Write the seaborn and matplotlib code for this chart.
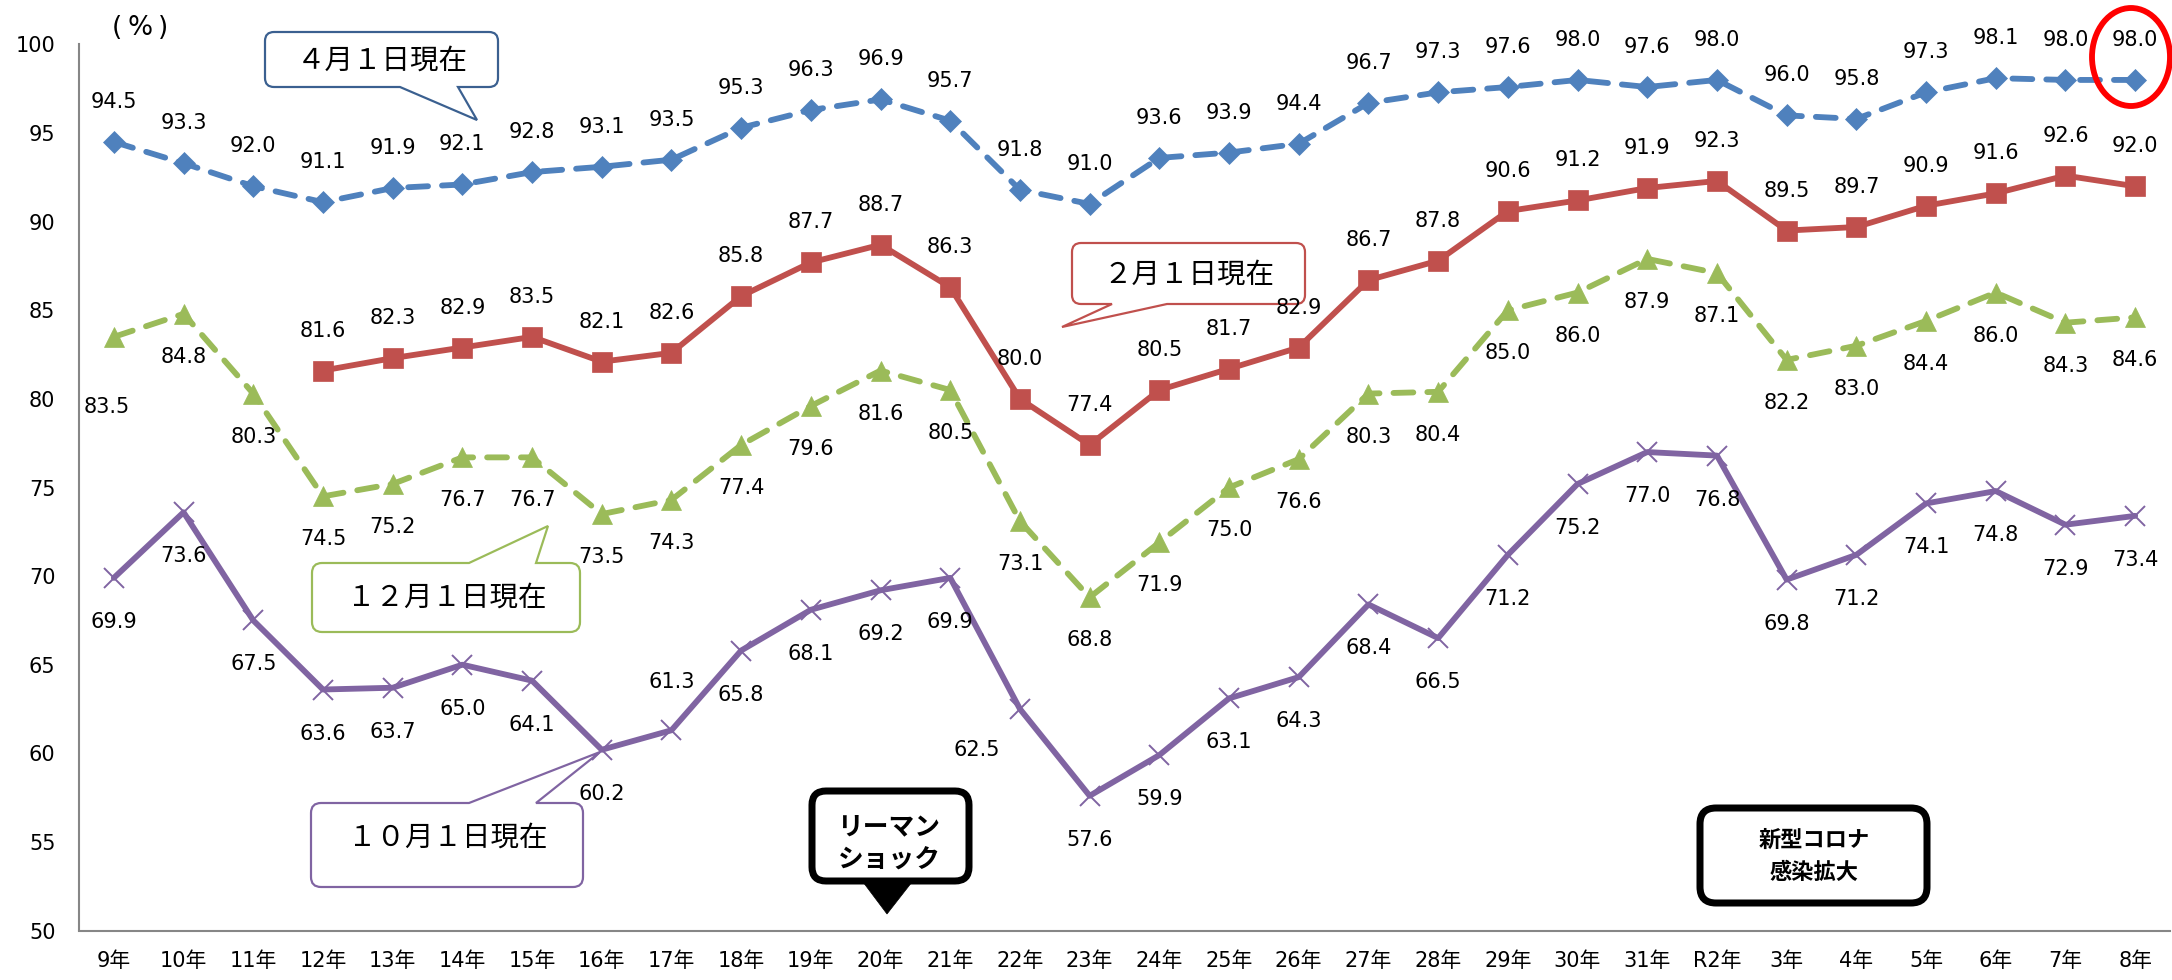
import numpy as np
import matplotlib
matplotlib.use("Agg")
import matplotlib.pyplot as plt
import seaborn as sns
from matplotlib.path import Path
from matplotlib.patches import PathPatch, Ellipse, Polygon
from matplotlib.transforms import IdentityTransform

# ---- data -------------------------------------------------------------
years = ["9年", "10年", "11年", "12年", "13年", "14年", "15年", "16年", "17年",
         "18年", "19年", "20年", "21年", "22年", "23年", "24年", "25年", "26年",
         "27年", "28年", "29年", "30年", "31年", "R2年", "3年", "4年", "5年",
         "6年", "7年", "8年"]

# 4月1日現在
april = [94.5, 93.3, 92.0, 91.1, 91.9, 92.1, 92.8, 93.1, 93.5, 95.3, 96.3, 96.9,
         95.7, 91.8, 91.0, 93.6, 93.9, 94.4, 96.7, 97.3, 97.6, 98.0, 97.6, 98.0,
         96.0, 95.8, 97.3, 98.1, 98.0, 98.0]

# 2月1日現在 (集計は12年から)
february = [81.6, 82.3, 82.9, 83.5, 82.1, 82.6, 85.8, 87.7, 88.7, 86.3, 80.0,
            77.4, 80.5, 81.7, 82.9, 86.7, 87.8, 90.6, 91.2, 91.9, 92.3, 89.5,
            89.7, 90.9, 91.6, 92.6, 92.0]

# 12月1日現在
december = [83.5, 84.8, 80.3, 74.5, 75.2, 76.7, 76.7, 73.5, 74.3, 77.4, 79.6,
            81.6, 80.5, 73.1, 68.8, 71.9, 75.0, 76.6, 80.3, 80.4, 85.0, 86.0,
            87.9, 87.1, 82.2, 83.0, 84.4, 86.0, 84.3, 84.6]

# 10月1日現在
october = [69.9, 73.6, 67.5, 63.6, 63.7, 65.0, 64.1, 60.2, 61.3, 65.8, 68.1,
           69.2, 69.9, 62.5, 57.6, 59.9, 63.1, 64.3, 68.4, 66.5, 71.2, 75.2,
           77.0, 76.8, 69.8, 71.2, 74.1, 74.8, 72.9, 73.4]

y_ticks = [50, 55, 60, 65, 70, 75, 80, 85, 90, 95, 100]

# ---- style ------------------------------------------------------------
sns.set_theme(style="white")
plt.rcParams["font.family"] = ["DejaVu Sans", "Noto Sans CJK JP"]
JP = ["Noto Sans CJK JP", "DejaVu Sans"]
LATIN = ["DejaVu Sans", "Noto Sans CJK JP"]

BLUE, RED, GREEN, PURPLE = "#4F81BD", "#C0504D", "#9BBB59", "#8064A2"
AXIS_GRAY = "#868686"

W, H, DPI = 2172, 980, 100
fig = plt.figure(figsize=(W / DPI, H / DPI), dpi=DPI, facecolor="white")
ax = fig.add_axes([79 / W, 1 - 930.5 / H, (2170 - 79) / W, (930.5 - 44.5) / H])

x_all = np.arange(len(years))
x_feb = x_all[len(years) - len(february):]

DASH = (0, (3.4, 2.4))
series = [
    dict(x=x_all, y=april, color=BLUE, marker="D", ms=11.5, ls=DASH, dy=40),
    dict(x=x_feb, y=february, color=RED, marker="s", ms=14, ls="-", dy=40),
    dict(x=x_all, y=december, color=GREEN, marker="^", ms=15, ls=DASH, dy=-43),
    dict(x=x_all, y=october, color=PURPLE, marker="x", ms=15, ls="-", dy=-44),
]

for s in series:
    sns.lineplot(x=s["x"], y=s["y"], ax=ax, color=s["color"], marker=s["marker"],
                 markersize=s["ms"], markeredgecolor=s["color"],
                 markerfacecolor=s["color"],
                 markeredgewidth=1.4 if s["marker"] == "x" else 0.5,
                 linewidth=4.2, linestyle=s["ls"], dash_capstyle="round",
                 solid_joinstyle="round", errorbar=None, sort=False, zorder=2)

# value labels (a few are nudged off the lines)
nudges = {(2, 0): (-7, -70), (3, 8): (0, 48), (3, 13): (-43, -41)}
for k, s in enumerate(series):
    for i, (xi, v) in enumerate(zip(s["x"], s["y"])):
        dx, dy = nudges.get((k, i), (0, s["dy"]))
        ax.annotate(f"{v:.1f}", (xi, v), xytext=(dx, dy), textcoords="offset pixels",
                    ha="center", va="center", fontsize=15, color="black", zorder=4)

# ---- axes -------------------------------------------------------------
ax.set_xlim(-0.5, len(years) - 0.5)
ax.set_ylim(50, 100)
ax.set_yticks(y_ticks)
ax.set_xticks(x_all)
ax.set_xticklabels(years)
ax.set_xticks(np.arange(0.5, len(years), 1.0), minor=True)
ax.set_xlabel("")
ax.set_ylabel("")
for side in ("top", "right"):
    ax.spines[side].set_visible(False)
for side in ("left", "bottom"):
    ax.spines[side].set_color(AXIS_GRAY)
    ax.spines[side].set_linewidth(1.5)
ax.tick_params(axis="x", which="major", length=0, pad=15, labelsize=15, colors="black")
ax.tick_params(axis="x", which="minor", direction="in", length=6, width=1.3,
               color=AXIS_GRAY)
ax.tick_params(axis="y", which="major", direction="in", length=4.5, width=1.3,
               color=AXIS_GRAY, pad=17, labelsize=15, labelcolor="black")
ax.grid(False)

ident = IdentityTransform()


def balloon(box, color, lw_px, radius, tail=None, face="white"):
    """Rounded callout box given in pixel coords (origin top-left)."""
    L, T, R, B = box
    yb, yt = H - B, H - T
    r = radius
    verts, codes = [(L + r, yb)], [Path.MOVETO]

    def line(p):
        verts.append(p)
        codes.append(Path.LINETO)

    def curve(c, p):
        verts.extend([c, p])
        codes.extend([Path.CURVE3, Path.CURVE3])

    if tail and tail["side"] == "bottom":
        (x1, x2), (tx, ty) = tail["base"], tail["tip"]
        line((x1, yb)); line((tx, H - ty)); line((x2, yb))
    line((R - r, yb)); curve((R, yb), (R, yb + r))
    line((R, yt - r)); curve((R, yt), (R - r, yt))
    if tail and tail["side"] == "top":
        (x1, x2), (tx, ty) = tail["base"], tail["tip"]
        line((x2, yt)); line((tx, H - ty)); line((x1, yt))
    line((L + r, yt)); curve((L, yt), (L, yt - r))
    line((L, yb + r)); curve((L, yb), (L + r, yb))
    verts.append((L + r, yb))
    codes.append(Path.CLOSEPOLY)
    patch = PathPatch(Path(verts, codes), facecolor=face, edgecolor=color,
                      lw=lw_px * 72 / DPI, transform=ident, clip_on=False,
                      zorder=1.5, joinstyle="miter")
    ax.add_patch(patch)


def label(px, py, s, size, weight="normal", family=JP):
    ax.text(px, H - py, s, transform=ident, ha="center", va="center",
            fontsize=size, fontweight=weight, family=family, color="black",
            zorder=5, clip_on=False)


# series callouts
balloon((265, 32, 498, 87), "#3B6090", 2.2, 9,
        tail=dict(side="bottom", base=(400, 458), tip=(477, 120)))
label(382, 61, "４月１日現在", 20.5)

balloon((1072, 243, 1305, 304), RED, 2.2, 9,
        tail=dict(side="bottom", base=(1112, 1167), tip=(1062, 327)))
label(1189, 275, "２月１日現在", 20.5)

balloon((312, 563, 580, 632), GREEN, 2.2, 10,
        tail=dict(side="top", base=(469, 536), tip=(548, 526)))
label(447, 598, "１２月１日現在", 20.5)

balloon((311, 803, 583, 887), PURPLE, 2.2, 10,
        tail=dict(side="top", base=(469, 536), tip=(600, 752)))
label(448, 838, "１０月１日現在", 20.5)

# event markers
balloon((812, 791, 969, 881), "black", 7, 14)
ax.add_patch(Polygon([(863, H - 882), (912, H - 882), (887, H - 914)], closed=True,
                     facecolor="black", edgecolor="black", lw=0.5,
                     transform=ident, clip_on=False, zorder=1.6))
label(889, 827, "リーマン", 18.5, "bold")
label(889, 860, "ショック", 18.5, "bold")

balloon((1700, 808, 1927, 903), "black", 7, 16)
label(1814, 840, "新型コロナ", 16, "bold")
label(1814, 872, "感染拡大", 16, "bold")

# latest value highlight
ax.add_patch(Ellipse((2131, H - 57), 78, 98, fill=False, edgecolor="#FF0000",
                     lw=4.2, transform=ident, clip_on=False, zorder=5))

# unit, set as wide-spaced parentheses around the percent sign
label(117, 28, "(", 19, family=LATIN)
label(140, 28, "%", 19, family=LATIN)
label(163, 28, ")", 19, family=LATIN)

fig.savefig("out.png", dpi=DPI, facecolor="white")
